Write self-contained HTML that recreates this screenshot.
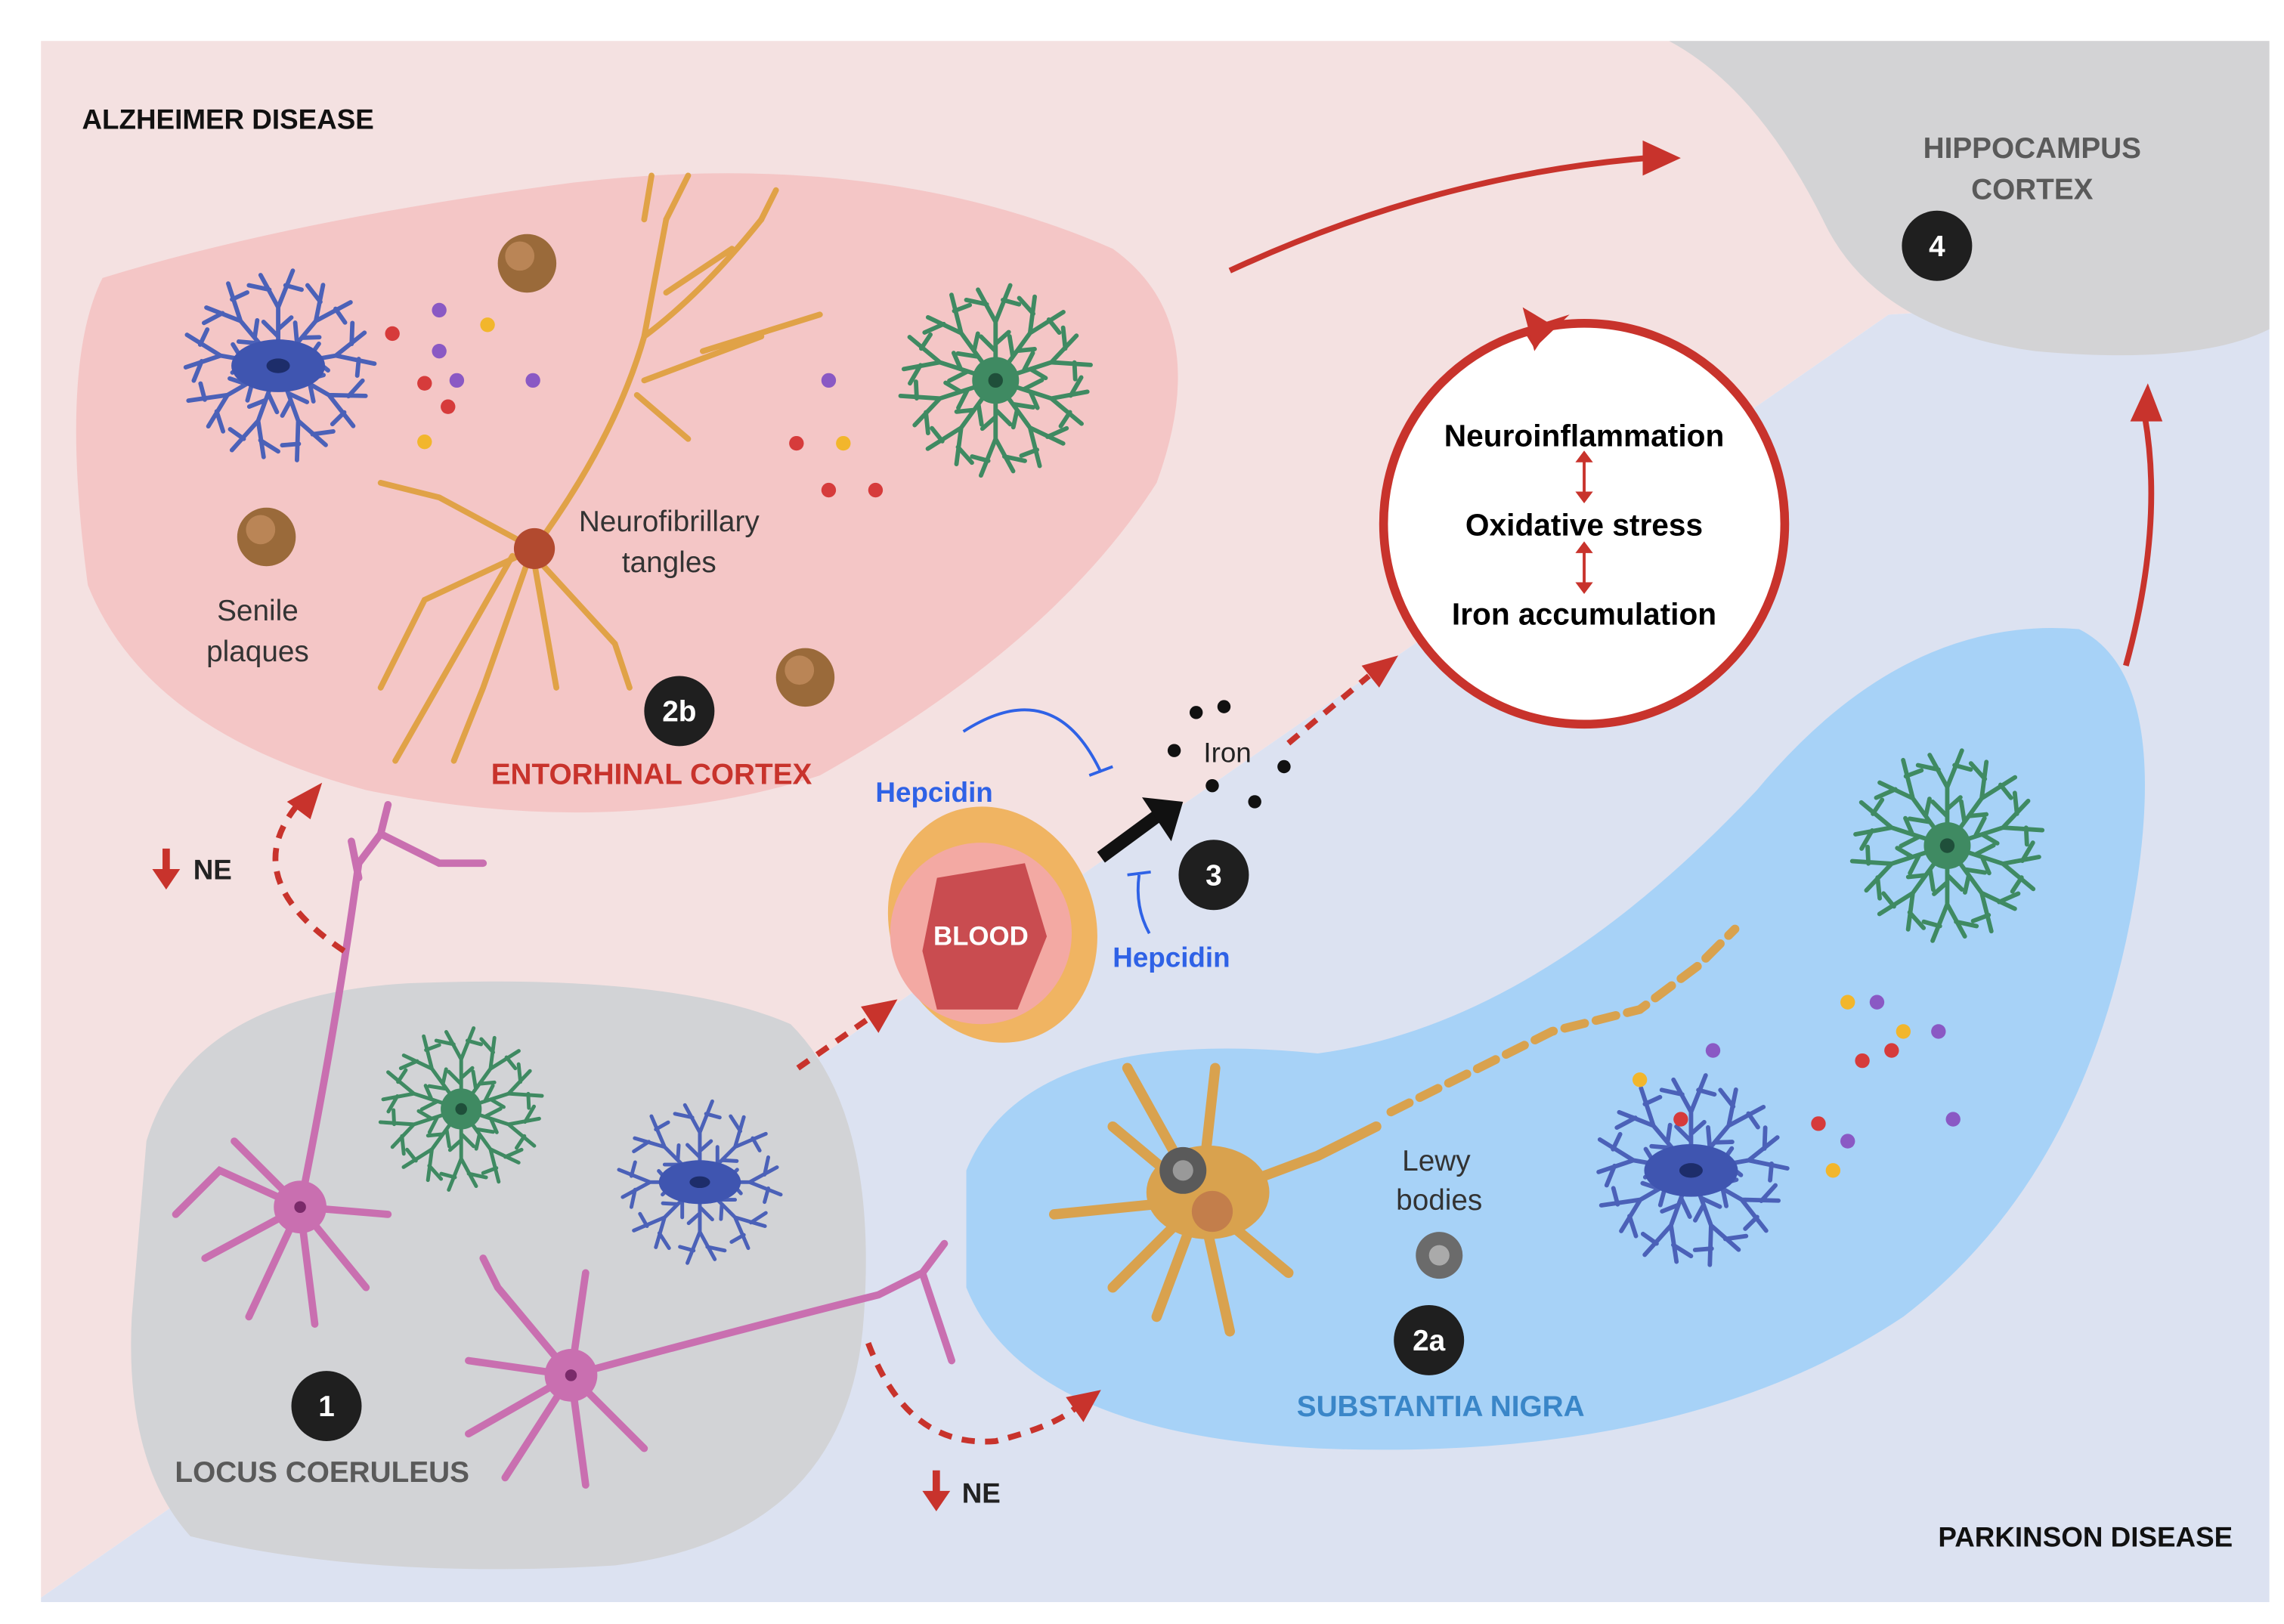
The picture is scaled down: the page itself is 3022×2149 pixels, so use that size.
<!DOCTYPE html>
<html><head><meta charset="utf-8"><style>html,body{margin:0;padding:0;background:#fff}svg{display:block}</style></head>
<body>
<svg width="3022" height="2149" viewBox="0 0 1560 1110" preserveAspectRatio="none" xmlns="http://www.w3.org/2000/svg" font-family="Liberation Sans, sans-serif">
<defs>
<g id="br" fill="none" stroke-linecap="round">
<path d="M0,0 L0,-40 L-12,-62 M0,-40 L10,-65 M-6,-52 L-20,-55 M5,-55 L16,-52 M0,-20 L-10,-30 M0,-25 L9,-33"/>
</g>
<marker id="ah" markerWidth="6" markerHeight="6" refX="3" refY="3" orient="auto" markerUnits="strokeWidth"><path d="M0,0 L6,3 L0,6 Z" fill="#c8332c"/></marker>
</defs>
<rect width="1560" height="1110" fill="#fff"/>
<!-- background halves -->
<polygon points="28,28 1550,28 1550,200 1290,215 28,1092" fill="#f4e1e1"/>
<polygon points="28,1092 1290,215 1550,200 1550,1095 28,1095" fill="#dce2f1"/>
<!-- hippocampus -->
<path d="M1140,28 L1550,28 L1550,225 Q1500,250 1390,240 Q1280,225 1245,150 Q1200,60 1140,28 Z" fill="#d3d3d5"/>
<!-- entorhinal cortex -->
<path d="M70,190 Q200,150 390,125 Q600,100 760,170 Q830,220 790,330 Q720,440 560,530 Q420,575 250,540 Q100,500 60,400 Q40,250 70,190 Z" fill="#f4c6c6"/>
<!-- substantia nigra -->
<path d="M660,800 Q700,700 900,720 Q1050,700 1200,540 Q1300,420 1420,430 Q1480,460 1460,600 Q1430,800 1300,900 Q1150,1000 900,990 Q700,980 660,880 Z" fill="#a7d2f7"/>
<!-- locus coeruleus -->
<path d="M100,780 Q130,680 280,672 Q460,665 540,700 Q600,760 590,900 Q580,1050 420,1070 Q250,1080 130,1050 Q85,1000 90,900 Z" fill="#d2d3d6"/>

<!-- astrocytes -->
<g stroke="#4b61b8" stroke-width="3">
<g transform="translate(190,250)"><use href="#br" transform="rotate(0)"/><use href="#br" transform="rotate(40)"/><use href="#br" transform="rotate(80)"/><use href="#br" transform="rotate(120)"/><use href="#br" transform="rotate(160)"/><use href="#br" transform="rotate(200)"/><use href="#br" transform="rotate(240)"/><use href="#br" transform="rotate(280)"/><use href="#br" transform="rotate(320)"/></g>
<g transform="translate(478,808) scale(0.85)"><use href="#br" transform="rotate(0)"/><use href="#br" transform="rotate(45)"/><use href="#br" transform="rotate(90)"/><use href="#br" transform="rotate(135)"/><use href="#br" transform="rotate(180)"/><use href="#br" transform="rotate(225)"/><use href="#br" transform="rotate(270)"/><use href="#br" transform="rotate(315)"/></g>
<g transform="translate(1155,800)"><use href="#br" transform="rotate(0)"/><use href="#br" transform="rotate(40)"/><use href="#br" transform="rotate(80)"/><use href="#br" transform="rotate(120)"/><use href="#br" transform="rotate(160)"/><use href="#br" transform="rotate(200)"/><use href="#br" transform="rotate(240)"/><use href="#br" transform="rotate(280)"/><use href="#br" transform="rotate(320)"/></g>
</g>
<g fill="#3f55b0"><ellipse cx="190" cy="250" rx="32" ry="18"/><ellipse cx="478" cy="808" rx="28" ry="15"/><ellipse cx="1155" cy="800" rx="32" ry="18"/></g>
<g fill="#1d2d6a"><ellipse cx="190" cy="250" rx="8" ry="5"/><ellipse cx="478" cy="808" rx="7" ry="4"/><ellipse cx="1155" cy="800" rx="8" ry="5"/></g>
<g stroke="#3f8a62" stroke-width="3">
<g transform="translate(680,260)"><use href="#br" transform="rotate(0)"/><use href="#br" transform="rotate(36)"/><use href="#br" transform="rotate(72)"/><use href="#br" transform="rotate(108)"/><use href="#br" transform="rotate(144)"/><use href="#br" transform="rotate(180)"/><use href="#br" transform="rotate(216)"/><use href="#br" transform="rotate(252)"/><use href="#br" transform="rotate(288)"/><use href="#br" transform="rotate(324)"/></g>
<g transform="translate(315,758) scale(0.85)"><use href="#br" transform="rotate(0)"/><use href="#br" transform="rotate(36)"/><use href="#br" transform="rotate(72)"/><use href="#br" transform="rotate(108)"/><use href="#br" transform="rotate(144)"/><use href="#br" transform="rotate(180)"/><use href="#br" transform="rotate(216)"/><use href="#br" transform="rotate(252)"/><use href="#br" transform="rotate(288)"/><use href="#br" transform="rotate(324)"/></g>
<g transform="translate(1330,578)"><use href="#br" transform="rotate(0)"/><use href="#br" transform="rotate(36)"/><use href="#br" transform="rotate(72)"/><use href="#br" transform="rotate(108)"/><use href="#br" transform="rotate(144)"/><use href="#br" transform="rotate(180)"/><use href="#br" transform="rotate(216)"/><use href="#br" transform="rotate(252)"/><use href="#br" transform="rotate(288)"/><use href="#br" transform="rotate(324)"/></g>
</g>
<g fill="#3f8a62"><circle cx="680" cy="260" r="16"/><circle cx="315" cy="758" r="14"/><circle cx="1330" cy="578" r="16"/></g>
<g fill="#1f4f3a"><circle cx="680" cy="260" r="5"/><circle cx="315" cy="758" r="4"/><circle cx="1330" cy="578" r="5"/></g>

<!-- orange tangles neuron -->
<g stroke="#e0a247" stroke-width="4" fill="none" stroke-linecap="round">
<path d="M365,375 Q420,300 440,230 L455,150 M440,230 Q480,200 520,150 M455,200 L500,170 M440,260 L520,230 M480,240 L560,215 M435,270 L470,300"/>
<path d="M365,375 L300,340 L260,330 M365,375 L290,410 L260,470 M360,385 L330,470 L310,520 M365,385 L380,470 M365,380 L420,440 L430,470 M350,380 L270,520"/>
<path d="M440,150 L445,120 M455,150 L470,120 M520,150 L530,130"/>
</g>
<circle cx="365" cy="375" r="14" fill="#b24a2f"/>
<!-- plaques -->
<g fill="#9a6a3a"><circle cx="360" cy="180" r="20"/><circle cx="182" cy="367" r="20"/><circle cx="550" cy="463" r="20"/></g>
<g fill="#c79262" opacity="0.7"><circle cx="355" cy="175" r="10"/><circle cx="178" cy="362" r="10"/><circle cx="546" cy="458" r="10"/></g>
<!-- dots -->
<g>
<circle cx="300" cy="212" r="5" fill="#8a59c4"/><circle cx="268" cy="228" r="5" fill="#d63b3b"/><circle cx="333" cy="222" r="5" fill="#f2b62c"/><circle cx="300" cy="240" r="5" fill="#8a59c4"/><circle cx="290" cy="262" r="5" fill="#d63b3b"/><circle cx="312" cy="260" r="5" fill="#8a59c4"/><circle cx="306" cy="278" r="5" fill="#d63b3b"/><circle cx="364" cy="260" r="5" fill="#8a59c4"/><circle cx="290" cy="302" r="5" fill="#f2b62c"/>
<circle cx="566" cy="260" r="5" fill="#8a59c4"/><circle cx="544" cy="303" r="5" fill="#d63b3b"/><circle cx="576" cy="303" r="5" fill="#f2b62c"/><circle cx="566" cy="335" r="5" fill="#d63b3b"/><circle cx="598" cy="335" r="5" fill="#d63b3b"/>
<circle cx="1262" cy="685" r="5" fill="#f2b62c"/><circle cx="1282" cy="685" r="5" fill="#8a59c4"/><circle cx="1300" cy="705" r="5" fill="#f2b62c"/><circle cx="1324" cy="705" r="5" fill="#8a59c4"/><circle cx="1170" cy="718" r="5" fill="#8a59c4"/><circle cx="1272" cy="725" r="5" fill="#d63b3b"/><circle cx="1292" cy="718" r="5" fill="#d63b3b"/><circle cx="1120" cy="738" r="5" fill="#f2b62c"/><circle cx="1148" cy="765" r="5" fill="#d63b3b"/><circle cx="1242" cy="768" r="5" fill="#d63b3b"/><circle cx="1262" cy="780" r="5" fill="#8a59c4"/><circle cx="1252" cy="800" r="5" fill="#f2b62c"/><circle cx="1334" cy="765" r="5" fill="#8a59c4"/>
</g>
<!-- pink neurons -->
<g stroke="#c96fb0" stroke-width="5" fill="none" stroke-linecap="round">
<path d="M205,825 Q230,700 245,590 L260,570 L300,590 L330,590 M260,570 L265,550 M245,600 L240,575"/>
<path d="M205,825 L150,800 L120,830 M205,825 L140,860 M205,825 L170,900 M205,825 L215,905 M205,825 L250,880 M205,825 L265,830 M205,825 L160,780"/>
<path d="M390,940 Q500,910 600,885 L630,870 L650,930 M630,870 L645,850"/>
<path d="M390,940 L340,880 L330,860 M390,940 L320,930 M390,940 L320,980 M390,940 L345,1010 M390,940 L400,1015 M390,940 L440,990 M390,940 L400,870"/>
</g>
<g fill="#c96fb0"><circle cx="205" cy="825" r="18"/><circle cx="390" cy="940" r="18"/></g>
<g fill="#7a2a6a"><circle cx="205" cy="825" r="4"/><circle cx="390" cy="940" r="4"/></g>
<!-- SN dopaminergic neuron -->
<g stroke="#d9a24e" stroke-width="7" fill="none" stroke-linecap="round">
<path d="M820,820 L900,790 L940,770 M820,820 L760,770 M820,820 L720,830 M820,820 L760,880 M820,820 L790,900 M820,820 L840,910 M820,820 L880,870 M820,820 L830,730 M820,820 L770,730"/>
<path d="M950,760 L1010,730 L1060,705 L1120,690 L1160,660 L1185,635" stroke-dasharray="14 8" stroke-width="6"/>
</g>
<ellipse cx="825" cy="815" rx="42" ry="32" fill="#d9a24e"/>
<circle cx="808" cy="800" r="16" fill="#5a5a5a"/><circle cx="808" cy="800" r="7" fill="#999"/>
<circle cx="828" cy="828" r="14" fill="#c37e4b"/>
<circle cx="983" cy="858" r="16" fill="#6b6b6b"/><circle cx="983" cy="858" r="7" fill="#aaa"/>

<!-- vessel -->
<ellipse cx="678" cy="632" rx="70" ry="82" fill="#f0b462" transform="rotate(-20 678 632)"/>
<circle cx="670" cy="638" r="62" fill="#f3a9a3"/>
<path d="M640,600 L700,590 L715,640 L695,690 L640,690 L630,650 Z" fill="#c94c50"/>
<text x="670" y="646" text-anchor="middle" font-size="18" font-weight="bold" fill="#fff">BLOOD</text>

<!-- circle box -->
<circle cx="1082" cy="358" r="137" fill="#fff" stroke="#c8332c" stroke-width="6"/>
<path d="M1040,225 L1072,215 L1048,238 Z" fill="#c8332c"/>
<path d="M1060,222 L1040,210 L1048,240" fill="#c8332c"/>
<text x="1082" y="305" text-anchor="middle" font-size="21" font-weight="bold">Neuroinflammation</text>
<text x="1082" y="366" text-anchor="middle" font-size="21" font-weight="bold">Oxidative stress</text>
<text x="1082" y="427" text-anchor="middle" font-size="21" font-weight="bold">Iron accumulation</text>
<g stroke="#c8332c" stroke-width="2"><line x1="1082" y1="312" x2="1082" y2="340"/><line x1="1082" y1="374" x2="1082" y2="402"/></g>
<g fill="#c8332c"><path d="M1076,316 L1082,308 L1088,316Z"/><path d="M1076,336 L1082,344 L1088,336Z"/><path d="M1076,378 L1082,370 L1088,378Z"/><path d="M1076,398 L1082,406 L1088,398Z"/></g>

<!-- red arrows -->
<g stroke="#c8332c" stroke-width="4" fill="none">
<path d="M840,185 Q980,120 1125,108"/>
<path d="M1452,455 Q1478,360 1465,285"/>
</g>
<g fill="#c8332c"><path d="M1122,96 L1148,108 L1122,120 Z"/><path d="M1455,288 L1467,262 L1477,288 Z"/></g>
<g stroke="#c8332c" stroke-width="4" fill="none" stroke-dasharray="9 7">
<path d="M235,650 Q160,600 205,548"/>
<path d="M545,730 L595,695"/>
<path d="M880,508 L935,462"/>
<path d="M593,918 Q620,990 680,985 Q720,975 735,962"/>
</g>
<g fill="#c8332c"><path d="M196,548 L220,535 L212,560 Z"/><path d="M588,688 L613,683 L600,706 Z"/><path d="M930,455 L955,448 L942,470 Z"/><path d="M728,955 L752,950 L740,972 Z"/></g>
<!-- NE -->
<g fill="#c8332c"><rect x="111" y="580" width="5" height="16"/><path d="M104,594 L123,594 L113.5,608 Z"/><rect x="637" y="1005" width="5" height="16"/><path d="M630,1019 L649,1019 L639.5,1033 Z"/></g>
<text x="132" y="601" font-size="19" font-weight="bold" fill="#222">NE</text>
<text x="657" y="1027" font-size="19" font-weight="bold" fill="#222">NE</text>

<!-- hepcidin -->
<g stroke="#2f62e6" stroke-width="2" fill="none"><path d="M658,500 Q720,460 752,528"/><path d="M744,530 L760,524"/><path d="M785,638 Q775,620 778,598"/><path d="M770,598 L786,596"/></g>
<text x="598" y="548" font-size="19" font-weight="bold" fill="#2f62e6">Hepcidin</text>
<text x="760" y="661" font-size="19" font-weight="bold" fill="#2f62e6">Hepcidin</text>
<!-- black arrow -->
<path d="M752,586 L790,558" stroke="#111" stroke-width="9"/><path d="M780,545 L808,548 L800,575 Z" fill="#111"/>
<g fill="#111"><circle cx="817" cy="487" r="4.5"/><circle cx="836" cy="483" r="4.5"/><circle cx="802" cy="513" r="4.5"/><circle cx="828" cy="537" r="4.5"/><circle cx="857" cy="548" r="4.5"/><circle cx="877" cy="524" r="4.5"/></g>
<text x="822" y="521" font-size="19" fill="#222">Iron</text>

<!-- number badges -->
<g fill="#1f1f1f"><circle cx="1323" cy="168" r="24"/><circle cx="464" cy="486" r="24"/><circle cx="829" cy="598" r="24"/><circle cx="223" cy="961" r="24"/><circle cx="976" cy="916" r="24"/></g>
<g fill="#fff" font-size="20" font-weight="bold" text-anchor="middle"><text x="1323" y="175">4</text><text x="464" y="493">2b</text><text x="829" y="605">3</text><text x="223" y="968">1</text><text x="976" y="923">2a</text></g>

<!-- labels -->
<text x="56" y="88" font-size="19" font-weight="bold" fill="#111">ALZHEIMER DISEASE</text>
<text x="1525" y="1057" font-size="19" font-weight="bold" fill="#111" text-anchor="end">PARKINSON DISEASE</text>
<g font-size="20" font-weight="bold" fill="#5a5a5a" text-anchor="middle"><text x="1388" y="108">HIPPOCAMPUS</text><text x="1388" y="136">CORTEX</text><text x="220" y="1013">LOCUS COERULEUS</text></g>
<text x="445" y="536" font-size="20" font-weight="bold" fill="#c8332c" text-anchor="middle">ENTORHINAL CORTEX</text>
<text x="984" y="968" font-size="20" font-weight="bold" fill="#3a86c8" text-anchor="middle">SUBSTANTIA NIGRA</text>
<g font-size="20" fill="#333" text-anchor="middle"><text x="457" y="363">Neurofibrillary</text><text x="457" y="391">tangles</text><text x="176" y="424">Senile</text><text x="176" y="452">plaques</text><text x="981" y="800">Lewy</text><text x="983" y="827">bodies</text></g>
</svg>
</body></html>
